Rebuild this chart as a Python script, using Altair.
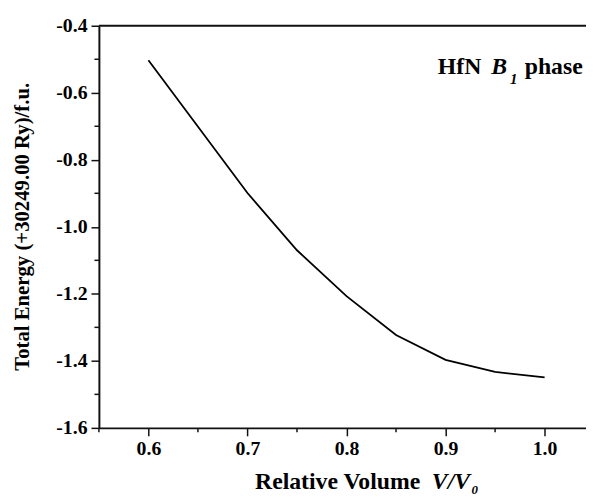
import altair as alt
import pandas as pd

# ---- data ----
volume = [0.6, 0.7, 0.75, 0.8, 0.85, 0.9, 0.95, 1.0]
energy = [-0.503, -0.899, -1.070, -1.207, -1.323, -1.397, -1.433, -1.449]

y_major = [-1.6, -1.4, -1.2, -1.0, -0.8, -0.6, -0.4]
y_minor = [-1.5, -1.3, -1.1, -0.9, -0.7, -0.5]
x_major = [0.6, 0.7, 0.8, 0.9, 1.0]
x_minor = [0.55, 0.65, 0.75, 0.85, 0.95]

x_domain = [0.55, 1.0418]
y_domain = [-1.6, -0.4]

W, H = 493, 407
FONT = "Liberation Serif"
INK = "#111111"

xs = alt.Scale(domain=x_domain, nice=False, zero=False)
ys = alt.Scale(domain=y_domain, nice=False, zero=False)

minus_fix = "replace(format(datum.value, '.1f'), '\u2212', '-')"

x_axis = alt.Axis(values=x_major, labelExpr=minus_fix, title=None,
                  labelPadding=3, labelOverlap=False, labelFlush=False)
y_axis = alt.Axis(values=y_major, labelExpr=minus_fix, title=None,
                  labelPadding=4, labelOverlap=False, labelFlush=False)

df = pd.DataFrame({"v": volume, "e": energy})
one = pd.DataFrame({"a": [0]})

line = alt.Chart(df).mark_line(color="black", strokeWidth=1.8).encode(
    x=alt.X("v:Q", scale=xs, axis=x_axis),
    y=alt.Y("e:Q", scale=ys, axis=y_axis),
)

y_minor_ticks = alt.Chart(pd.DataFrame({"e": y_minor})).mark_rule(
    color=INK, strokeWidth=1.5).encode(
    y=alt.Y("e:Q", scale=ys, axis=y_axis),
    x=alt.value(-4.5), x2=alt.value(0),
)

x_minor_ticks = alt.Chart(pd.DataFrame({"v": x_minor})).mark_rule(
    color=INK, strokeWidth=1.5).encode(
    x=alt.X("v:Q", scale=xs, axis=x_axis),
    y=alt.value(H), y2=alt.value(H + 4.5),
)

top_border = alt.Chart(one).mark_rule(color=INK, strokeWidth=2).encode(
    x=alt.value(0), x2=alt.value(W), y=alt.value(0)
)


def txt(s, x, y, size, italic=False, angle=0, align="left", baseline="alphabetic"):
    kw = dict(text=s, font=FONT, fontWeight="bold", fontSize=size,
              align=align, baseline=baseline, color="black")
    if italic:
        kw["fontStyle"] = "italic"
    if angle:
        kw["angle"] = angle
    return alt.Chart(one).mark_text(**kw).encode(x=alt.value(x), y=alt.value(y))


annotation = [
    txt("HfN", 343, 49, 24),
    txt("B", 397, 49, 24, italic=True),
    txt("1", 416, 59, 15, italic=True),
    txt("phase", 431, 49, 24),
]

x_title = [
    txt("Relative Volume", 158, 469, 24),
    txt("V/V", 337, 469, 24, italic=True),
    txt("0", 377, 474, 13, italic=True),
]

y_title = [
    txt("Total Energy (+30249.00 Ry)/f.u.", -77, 203.5, 21, angle=270,
        align="center", baseline="middle"),
]

chart = alt.layer(
    line, y_minor_ticks, x_minor_ticks, top_border,
    *annotation, *x_title, *y_title
).properties(
    width=W, height=H,
    autosize=alt.AutoSizeParams(type="none"),
    padding={"left": 92, "top": 15, "right": 0, "bottom": 68},
).configure_view(
    stroke=None
).configure_axis(
    grid=False,
    domainColor=INK, domainWidth=2,
    tickColor=INK, tickWidth=1.5, tickSize=8,
    labelFont=FONT, labelFontWeight="bold", labelFontSize=20, labelColor="black",
)

chart.save("out.html", embed_options={"renderer": "svg", "actions": False})
